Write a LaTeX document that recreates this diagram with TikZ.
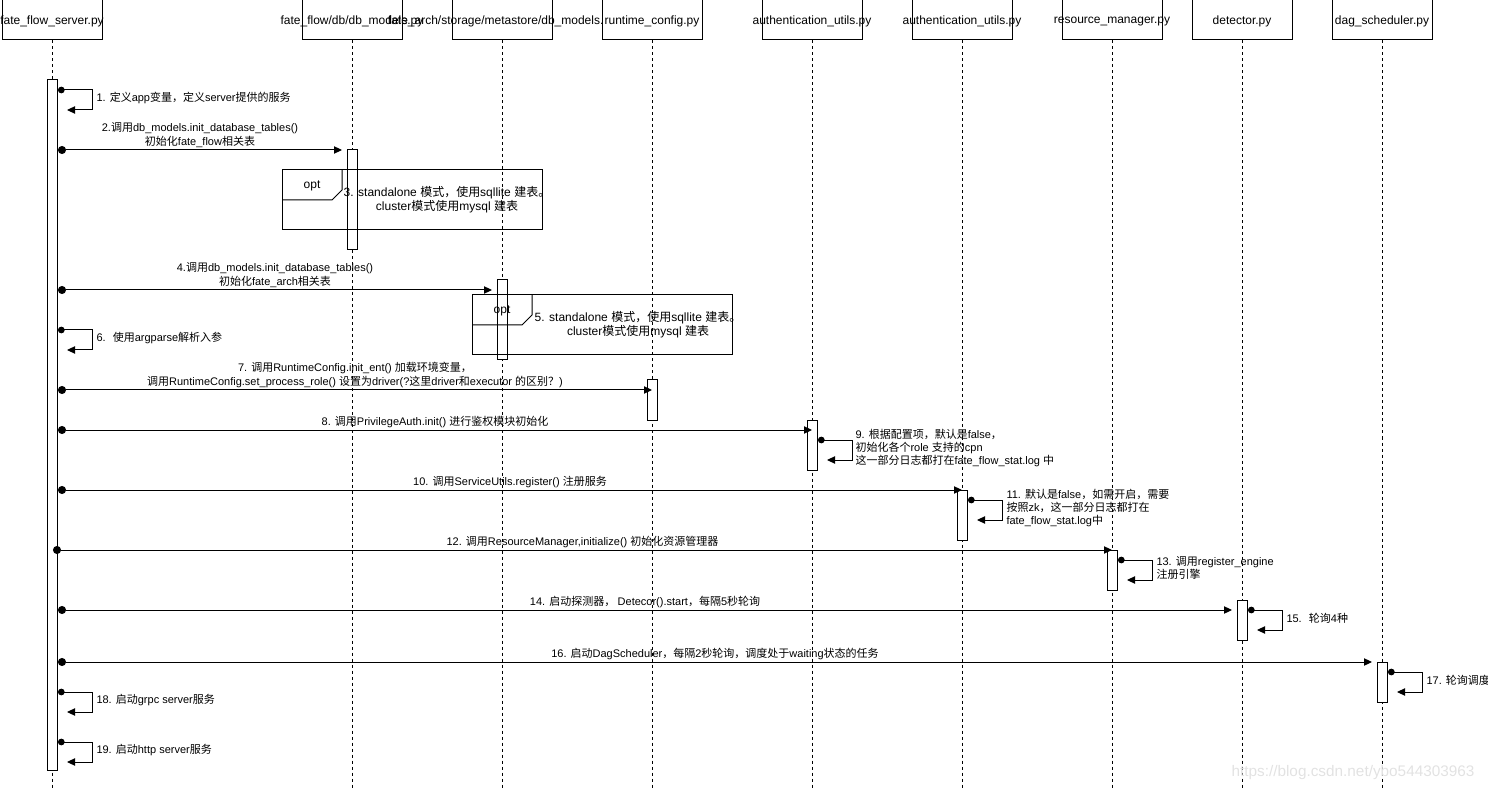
\documentclass[tikz,border=0pt]{standalone}
\usepackage{fontspec}
\usepackage{tikz}
\usetikzlibrary{arrows.meta, fit}
\setmainfont{Liberation Sans}
\newfontfamily\cjk{Noto Sans CJK SC}
% switch to the CJK font for ideographs and full-width punctuation
\XeTeXinterchartokenstate=1
\makeatletter
\count@="3000 \loop\XeTeXcharclass\count@=7 \advance\count@ 1 \ifnum\count@<"3040 \repeat
\count@="4E00 \loop\XeTeXcharclass\count@=7 \advance\count@ 1 \ifnum\count@<"A000 \repeat
\count@="FF00 \loop\XeTeXcharclass\count@=7 \advance\count@ 1 \ifnum\count@<"FFF0 \repeat
\makeatother
\XeTeXinterchartoks 0 7 = {\cjk}
\XeTeXinterchartoks 4095 7 = {\cjk}
\XeTeXinterchartoks 7 0 = {\rmfamily}
\XeTeXinterchartoks 4095 0 = {\rmfamily}
\definecolor{wmgray}{HTML}{E2E2E2}
\tikzset{
  hdrbox/.style={draw,fill=white,minimum width=75pt,minimum height=30pt,inner sep=0pt},
  hdrtext/.style={font=\fontsize{9}{11}\selectfont,inner sep=0pt,yshift=-1pt},
  lifeline/.style={dash pattern=on 2.25pt off 2.25pt},
  actbar/.style={draw,fill=white,inner sep=0pt},
  callmsg/.style={{Circle[length=6pt]}-{Triangle[length=6pt,width=5.5pt]}},
  selfmsg/.style={{Circle[length=5pt]}-{Triangle[length=6pt,width=5.5pt]}},
  msglbl/.style={font=\fontsize{8.25}{10}\selectfont,align=center,inner sep=1.5pt},
  selflbl/.style={msglbl,align=left,anchor=west,inner sep=0pt},
  optframe/.style={draw,inner sep=0pt},
  opttext/.style={font=\fontsize{9}{10.5}\selectfont,align=center,inner sep=0pt},
}
\begin{document}
\begin{tikzpicture}[x=0.75pt,y=-0.75pt,line width=0.75pt]
  \useasboundingbox (0,0) rectangle (1488,791);
  \coordinate (bot) at (0,790);
  % participants
  \node[hdrbox,label={[hdrtext]center:fate\_flow\_server.py}] (ffs) at (52,20) {};
  \node[hdrbox,label={[hdrtext]center:fate\_flow/db/db\_models.py}] (dbm) at (352,20) {};
  \node[hdrbox,label={[hdrtext]center:fate\_arch/storage/metastore/db\_models.py}] (meta) at (502,20) {};
  \node[hdrbox,label={[hdrtext]center:runtime\_config.py}] (rtc) at (652,20) {};
  \node[hdrbox,label={[hdrtext]center:authentication\_utils.py}] (auth) at (812,20) {};
  \node[hdrbox,label={[hdrtext]center:authentication\_utils.py}] (svc) at (962,20) {};
  \node[hdrbox,label={[hdrtext]center:resource\_manager.py}] (rsm) at (1112,20) {};
  \node[hdrbox,label={[hdrtext]center:detector.py}] (det) at (1242,20) {};
  \node[hdrbox,label={[hdrtext]center:dag\_scheduler.py}] (dag) at (1382,20) {};
  \foreach \p in {ffs,dbm,meta,rtc,auth,svc,rsm,det,dag}
    \draw[lifeline] (\p.south) -- (\p.south |- bot);

  % activations
  \node[actbar,fit={(47,80) (57,770)}] (ffsact) {};
  \node[actbar,fit={(347,150) (357,250)}] (dbmact) {};
  \node[actbar,fit={(497,280) (507,360)}] (metaact) {};
  \node[actbar,fit={(647,380) (657,420)}] (rtcact) {};
  \node[actbar,fit={(807,420) (817,470)}] (authact) {};
  \node[actbar,fit={(957,490) (967,540)}] (svcact) {};
  \node[actbar,fit={(1107,550) (1117,590)}] (rsmact) {};
  \node[actbar,fit={(1237,600) (1247,640)}] (detact) {};
  \node[actbar,fit={(1377,662) (1387,702)}] (dagact) {};

  % opt fragments
  \node[optframe,fit={(282,170) (542,230)}] (optA) {};
  \draw (282,200) -- (332,200) -- (342,190) -- (342,170);
  \node[opttext] (optAtag) at (312,186) {opt};
  \node[opttext] (optAtxt) at (447,200) {3. standalone 模式，使用sqllite 建表。\\cluster模式使用mysql 建表};
  \node[optframe,fit={(472,295) (732,355)}] (optB) {};
  \draw (472,325) -- (522,325) -- (532,315) -- (532,295);
  \node[opttext] (optBtag) at (502,311) {opt};
  \node[opttext] (optBtxt) at (638,325) {5. standalone 模式，使用sqllite 建表。\\cluster模式使用mysql 建表};

  % calls
  \coordinate (c2a) at (58,150);   \coordinate (c2b) at (342,150);
  \coordinate (c4a) at (58,290);   \coordinate (c4b) at (492,290);
  \coordinate (c7a) at (58,390);   \coordinate (c7b) at (652,390);
  \coordinate (c8a) at (58,430);   \coordinate (c8b) at (812,430);
  \coordinate (c10a) at (58,490);  \coordinate (c10b) at (962,490);
  \coordinate (c12a) at (53,550);  \coordinate (c12b) at (1112,550);
  \coordinate (c14a) at (58,610);  \coordinate (c14b) at (1232,610);
  \coordinate (c16a) at (58,662);  \coordinate (c16b) at (1372,662);
  \draw[callmsg] (c2a) -- node[msglbl,above] (l2) {2.调用db\_models.init\_database\_tables()\\初始化fate\_flow相关表} (c2b);
  \draw[callmsg] (c4a) -- node[msglbl,above] (l4) {4.调用db\_models.init\_database\_tables()\\初始化fate\_arch相关表} (c4b);
  \draw[callmsg] (c7a) -- node[msglbl,above] (l7) {7. 调用RuntimeConfig.init\_ent() 加载环境变量，\\调用RuntimeConfig.set\_process\_role() 设置为driver(?这里driver和executor 的区别？)} (c7b);
  \draw[callmsg] (c8a) -- node[msglbl,above] (l8) {8. 调用PrivilegeAuth.init() 进行鉴权模块初始化} (c8b);
  \draw[callmsg] (c10a) -- node[msglbl,above] (l10) {10. 调用ServiceUtils.register() 注册服务} (c10b);
  \draw[callmsg] (c12a) -- node[msglbl,above] (l12) {12. 调用ResourceManager,initialize() 初始化资源管理器} (c12b);
  \draw[callmsg] (c14a) -- node[msglbl,above] (l14) {14. 启动探测器， Detecor().start，每隔5秒轮询} (c14b);
  \draw[callmsg] (c16a) -- node[msglbl,above] (l16) {16. 启动DagScheduler，每隔2秒轮询，调度处于waiting状态的任务} (c16b);

  % self calls
  \coordinate (s1a) at (58,90);     \coordinate (s1b) at (67,110);
  \coordinate (s6a) at (58,330);    \coordinate (s6b) at (67,350);
  \coordinate (s9a) at (818,440);   \coordinate (s9b) at (827,460);
  \coordinate (s11a) at (968,500);  \coordinate (s11b) at (977,520);
  \coordinate (s13a) at (1118,560); \coordinate (s13b) at (1127,580);
  \coordinate (s15a) at (1248,610); \coordinate (s15b) at (1257,630);
  \coordinate (s17a) at (1388,672); \coordinate (s17b) at (1397,692);
  \coordinate (s18a) at (58,692);   \coordinate (s18b) at (67,712);
  \coordinate (s19a) at (58,742);   \coordinate (s19b) at (67,762);
  \foreach \s in {s1,s6,s9,s11,s13,s15,s17,s18,s19}
    \draw[selfmsg] (\s a) -- ([xshift=25.5pt]\s a) |- (\s b);
  \node[selflbl] (l1) at (96,98) {1. 定义app变量，定义server提供的服务};
  \node[selflbl] (l6) at (96,338) {6.~ 使用argparse解析入参};
  \node[selflbl] (l9) at (855,448) {9. 根据配置项，默认是false，\\初始化各个role 支持的cpn\\这一部分日志都打在fate\_flow\_stat.log 中};
  \node[selflbl] (l11) at (1006,508) {11. 默认是false，如需开启，需要\\按照zk，这一部分日志都打在\\fate\_flow\_stat.log中};
  \node[selflbl] (l13) at (1156,568) {13. 调用register\_engine\\注册引擎};
  \node[selflbl] (l15) at (1286,618) {15.~ 轮询4种};
  \node[selflbl] (l17) at (1426,680) {17. 轮询调度};
  \node[selflbl] (l18) at (96,700) {18. 启动grpc server服务};
  \node[selflbl] (l19) at (96,750) {19. 启动http server服务};

  \node[text=wmgray,font=\fontsize{11.5}{12}\selectfont,inner sep=0pt] (wmark) at (1353,773) {https://blog.csdn.net/ybo544303963};
\end{tikzpicture}
\end{document}
